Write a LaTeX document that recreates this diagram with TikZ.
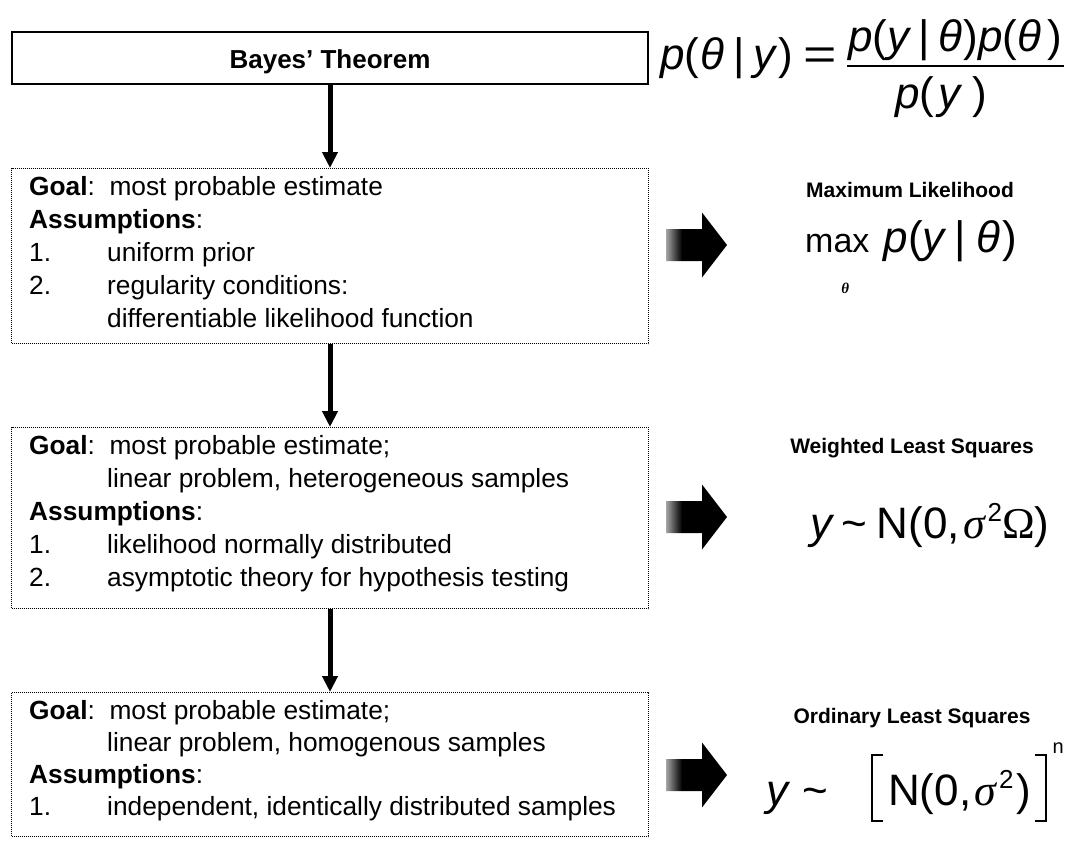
\documentclass[tikz,border=0pt]{standalone}
\usepackage{graphicx}
\usepackage{fontspec}
\setmainfont{Liberation Sans}
\newfontfamily\timesfont{Liberation Serif}
\usetikzlibrary{arrows.meta,calc}

% shaft of the block arrows: grey at the tail, solid black towards the head
\pgfdeclarehorizontalshading{shaftfade}{100bp}{color(0bp)=(black!35); color(25bp)=(black!35); color(38bp)=(black); color(100bp)=(black)}

\newcommand\stepnum[1]{\makebox[78pt][l]{#1}}
\newcommand\stepindent{\hspace*{78pt}}
\newcommand\iv[1]{{\itshape #1}}
\newcommand\wideeq{\scalebox{1.3}[1]{=}}
\newcommand\sqr{\kern3pt\raisebox{17pt}{\fontsize{26}{26}\selectfont 2}}

\begin{document}
\begin{tikzpicture}[x=1pt,y=-1pt,
  titlebox/.style={draw, line width=1.3pt, minimum width=636pt, minimum height=52pt, inner sep=0pt},
  titletext/.style={font=\fontsize{26}{30}\selectfont\bfseries, inner sep=0pt, anchor=base},
  stepbox/.style={draw, densely dotted, line width=1pt, minimum width=637pt, inner sep=0pt, anchor=north},
  steptext/.style={anchor=north west, inner sep=0pt, align=left},
  flow/.style={line width=5pt, -{Triangle[width=15pt,length=16pt]}},
  method/.style={font=\fontsize{21}{25}\selectfont\bfseries, inner sep=0pt, anchor=base},
  formula/.style={font=\fontsize{44}{48}\selectfont, inner sep=0pt, anchor=base west},
  bracketline/.style={line width=1.7pt},
  blockarrow/.pic={\shade[shading=shaftfade] (0,-16) -- (36,-16) -- (36,-32.5) -- (61,0) -- (36,32.5) -- (36,16) -- (0,16) -- cycle;}
]
\useasboundingbox (0,0) rectangle (1081,846);

% ---- left column: the chain of estimators ----
\node[titlebox] (bayes) at (330,58) {};
\node[titletext] (bayesname) at (330,68) {Bayes’ Theorem};

\node[stepbox, minimum height=175pt] (ml) at (330,168) {};
\node[steptext, font=\fontsize{26.3}{33}\selectfont] (mltext) at ($(ml.north west)+(18,8)$) {%
  \textbf{Goal}:\ \ most probable estimate\\
  \textbf{Assumptions}:\\
  \stepnum{1.}uniform prior\\
  \stepnum{2.}regularity conditions:\\
  \stepindent differentiable likelihood function};

\node[stepbox, minimum height=181pt] (wls) at (330,427) {};
\node[steptext, font=\fontsize{26.3}{33}\selectfont] (wlstext) at ($(wls.north west)+(18,8)$) {%
  \textbf{Goal}:\ \ most probable estimate;\\
  \stepindent linear problem, heterogeneous samples\\
  \textbf{Assumptions}:\\
  \stepnum{1.}likelihood normally distributed\\
  \stepnum{2.}asymptotic theory for hypothesis testing};

\node[stepbox, minimum height=144pt] (ols) at (330,692) {};
\node[steptext, font=\fontsize{26.3}{32}\selectfont] (olstext) at ($(ols.north west)+(18,8)$) {%
  \textbf{Goal}:\ \ most probable estimate;\\
  \stepindent linear problem, homogenous samples\\
  \textbf{Assumptions}:\\
  \stepnum{1.}independent, identically distributed samples};

\draw[flow] (bayes.south) -- (ml.north);
\draw[flow] (ml.south) -- (wls.north);
\draw[flow] (wls.south) -- (ols.north);

% ---- Bayes' rule ----
\node[formula] (postlhs) at (660,69)
  {\iv{p}(\kern1pt\iv{θ}\kern9pt|\kern9pt\iv{y}\kern3pt)\kern10pt\wideeq};
\node[formula] (postnum) at (848,51)
  {\iv{p}(\iv{y}\kern9pt|\kern9pt\iv{θ}\kern1pt)\iv{p}(\iv{θ}\kern6pt)};
\node[formula] (postden) at (895,108) {\iv{p}(\kern4pt\iv{y}\kern12pt)};
\draw[line width=1.8pt] ($(postnum.base west)+(-1,15)$) -- ($(postnum.base east)+(2,15)$);

% ---- right column: the resulting estimators ----
\pic at (666,245) {blockarrow};
\node[method] (mlname) at (910,197) {Maximum Likelihood};
\node[formula, font=\fontsize{34}{38}\selectfont] (mlmax) at (805,252) {max};
\node[formula] (mllik) at ($(mlmax.base east)+(14,0)$)
  {\iv{p}(\iv{y}\kern10pt|\kern10pt\iv{θ}\kern2pt)};
\node[inner sep=0pt, font=\fontsize{15}{16}\selectfont\timesfont\bfseries\itshape] (mlsub)
  at ($(mlmax.base)+(8,36)$) {θ};

\pic at (666,517) {blockarrow};
\node[method] (wlsname) at (912,453) {Weighted Least Squares};
\node[formula] (wlsf) at (810,538)
  {\iv{y}\kern9pt\textasciitilde\kern10pt N(0,\kern3pt{\timesfont\itshape σ}\sqr{\timesfont Ω})};

\pic at (666,775) {blockarrow};
\node[method] (olsname) at (912,723) {Ordinary Least Squares};
\node[formula] (olsy) at (766,805) {\iv{y}\kern14pt\textasciitilde};
\node[formula] (olsN) at (888,805)
  {N(0,\kern3pt{\timesfont\itshape σ}\sqr\kern3pt)};
\draw[bracketline] ($(olsN.base west)+(-5,-50)$) -- ++(-11,0) -- ++(0,66) -- ++(11,0);
\draw[bracketline] ($(olsN.base east)+(4,-50)$) -- ++(11,0) -- ++(0,66) -- ++(-11,0);
\node[inner sep=0pt, anchor=north west, font=\fontsize{20}{20}\selectfont] (olsexp)
  at ($(olsN.base east)+(21,-62)$) {n};
\end{tikzpicture}
\end{document}
